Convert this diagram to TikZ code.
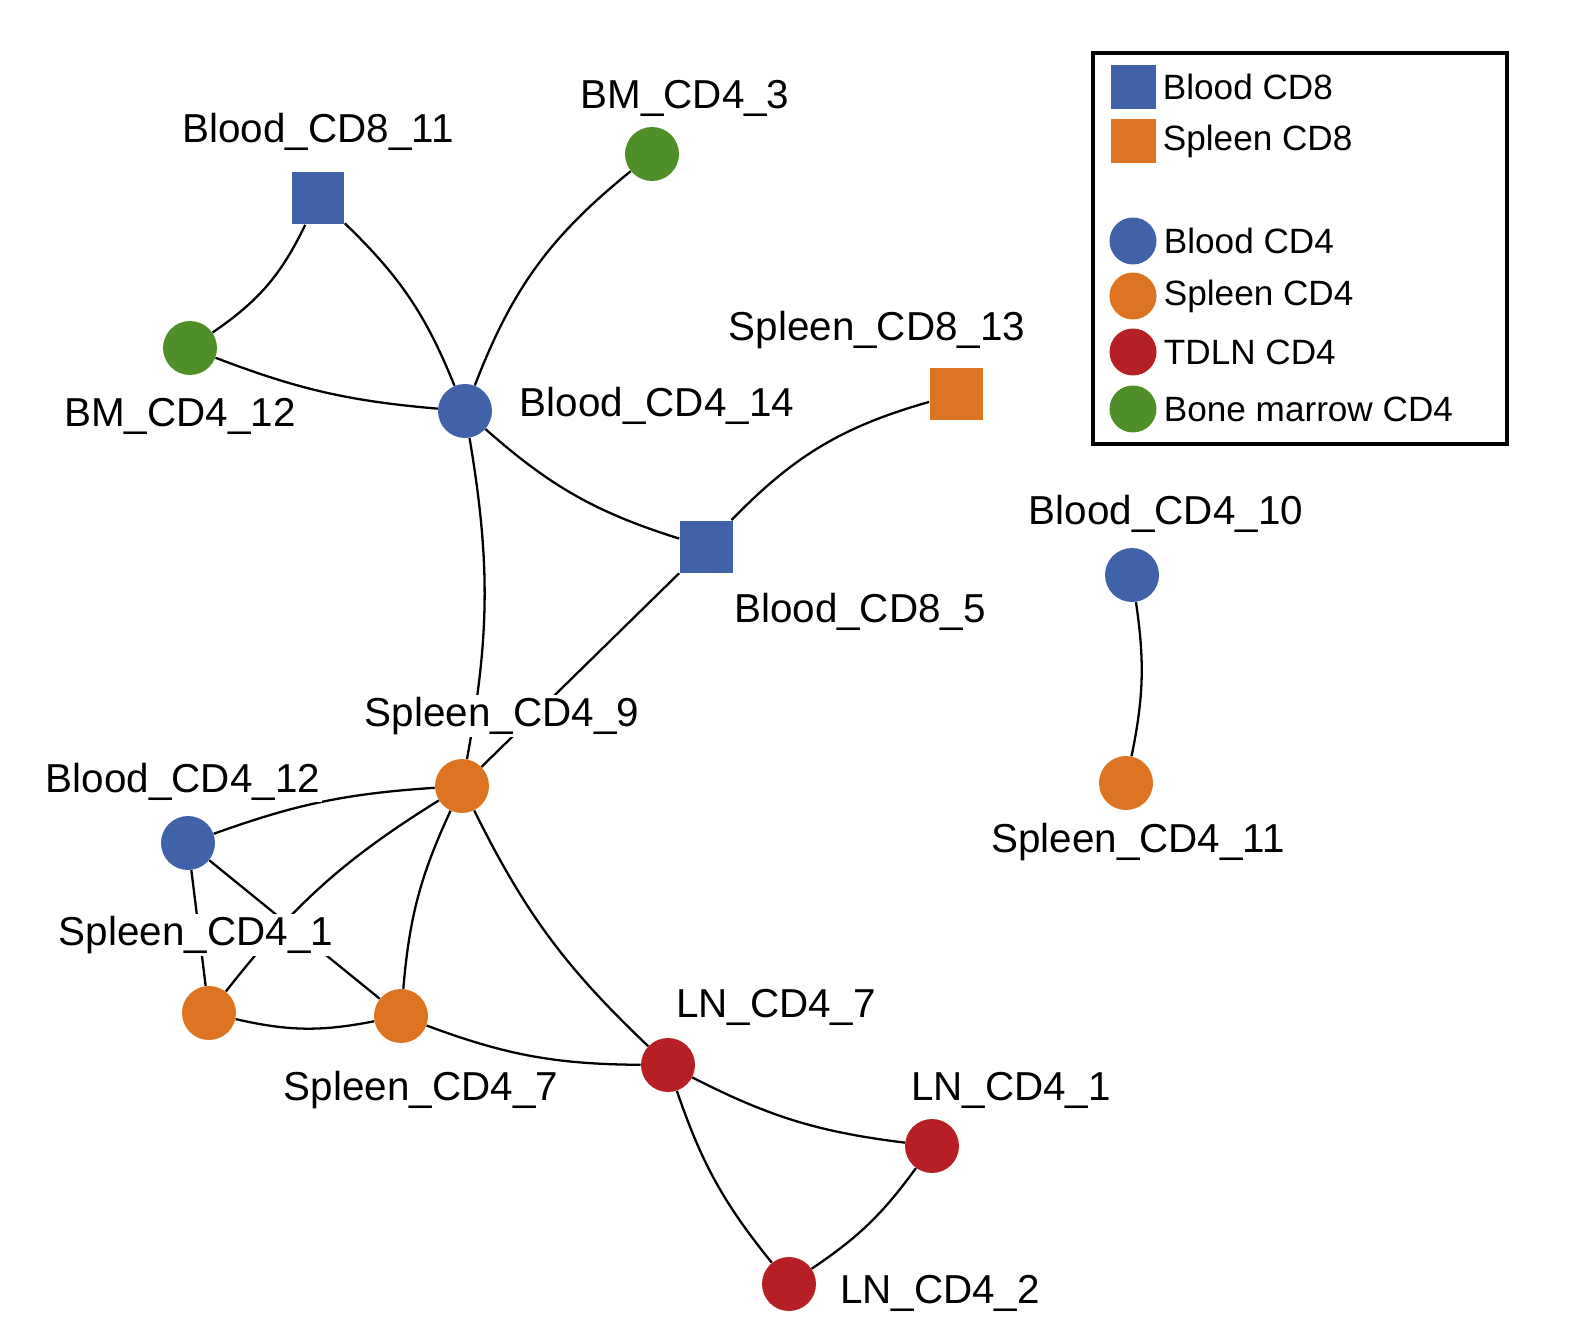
\documentclass[tikz,border=0pt]{standalone}
\usepackage{fontspec}
\setmainfont{Liberation Sans}
\usepackage{xcolor}
\usetikzlibrary{positioning}
\definecolor{cblue}{HTML}{3F62A8}
\definecolor{corange}{HTML}{DD7422}
\definecolor{cred}{HTML}{B61F24}
\definecolor{cgreen}{HTML}{4E8F2A}
\tikzset{
  dot/.style={circle,fill=#1,minimum size=1.08cm,inner sep=0pt},
  sq/.style={rectangle,fill=#1,minimum size=1.06cm,inner sep=0pt},
  lab/.style={fill=white,inner sep=1pt,font=\fontsize{23}{27}\selectfont},
  edge/.style={line width=1.3pt,black},
}
\begin{document}
\begin{tikzpicture}[x=0.02cm,y=-0.02cm]
	\useasboundingbox (0,0) rectangle (1573,1321);
	% nodes
	\node[sq=cblue] (b811) at (318,198) {};
	\node[dot=cgreen] (bm43) at (652,154) {};
	\node[dot=cgreen] (bm412) at (190,348) {};
	\node[dot=cblue] (b414) at (465,411) {};
	\node[sq=corange] (s813) at (956,394) {};
	\node[sq=cblue] (b85) at (706,547) {};
	\node[dot=cblue] (b410) at (1132,575) {};
	\node[dot=corange] (s411) at (1126,783) {};
	\node[dot=corange] (s49) at (462,786) {};
	\node[dot=cblue] (b412) at (188,843) {};
	\node[dot=corange] (s41) at (209,1013) {};
	\node[dot=corange] (s47) at (401,1016) {};
	\node[dot=cred] (ln47) at (668,1065) {};
	\node[dot=cred] (ln41) at (932,1146) {};
	\node[dot=cred] (ln42) at (789,1284) {};
	% edges
	\draw[edge] (b811) to[bend left=15] (bm412);
	\draw[edge] (b811) to[bend left=12] (b414);
	\draw[edge] (bm43) to[bend right=15] (b414);
	\draw[edge] (bm412) to[bend right=8] (b414);
	\draw[edge] (b414) to[bend right=12] (b85);
	\draw[edge] (b414) to[bend left=10] (s49);
	\draw[edge] (s813) to[bend right=15] (b85);
	\draw[edge] (b85) -- (s49);
	\draw[edge] (b410) to[bend left=10] (s411);
	\draw[edge] (s49) to[bend right=8] (b412);
	\draw[edge] (s49) to[bend right=10] (s41);
	\draw[edge] (s49) to[bend right=10] (s47);
	\draw[edge] (s49) to[bend right=10] (ln47);
	\draw[edge] (b412) -- (s41);
	\draw[edge] (b412) -- (s47);
	\draw[edge] (s41) to[bend right=12] (s47);
	\draw[edge] (s47) to[bend right=10] (ln47);
	\draw[edge] (ln47) to[bend right=10] (ln41);
	\draw[edge] (ln47) to[bend right=10] (ln42);
	\draw[edge] (ln41) to[bend left=10] (ln42);
	% labels
	\node[lab] at (318,132) {Blood\_CD8\_11};
	\node[lab] at (685,98) {BM\_CD4\_3};
	\node[lab] at (180,416) {BM\_CD4\_12};
	\node[lab] at (657,406) {Blood\_CD4\_14};
	\node[lab] at (877,330) {Spleen\_CD8\_13};
	\node[lab] at (860,612) {Blood\_CD8\_5};
	\node[lab] at (1166,514) {Blood\_CD4\_10};
	\node[lab] at (1138,842) {Spleen\_CD4\_11};
	\node[lab] at (502,716) {Spleen\_CD4\_9};
	\node[lab] at (183,782) {Blood\_CD4\_12};
	\node[lab] at (196,935) {Spleen\_CD4\_1};
	\node[lab] at (421,1090) {Spleen\_CD4\_7};
	\node[lab] at (776,1007) {LN\_CD4\_7};
	\node[lab] at (1011,1090) {LN\_CD4\_1};
	\node[lab] at (940,1293) {LN\_CD4\_2};
	% legend
	\draw[line width=2pt] (1093,53) rectangle (1507,444);
	\node[sq=cblue,minimum size=0.9cm] (lg1) at (1133,87) {};
	\node[sq=corange,minimum size=0.9cm] (lg2) at (1133,141) {};
	\node[dot=cblue,minimum size=0.94cm] (lg3) at (1133,241) {};
	\node[dot=corange,minimum size=0.94cm] (lg4) at (1133,296) {};
	\node[dot=cred,minimum size=0.94cm] (lg5) at (1133,352) {};
	\node[dot=cgreen,minimum size=0.94cm] (lg6) at (1133,409) {};
	\foreach \n/\t in {lg1/Blood CD8,lg2/Spleen CD8,lg3/Blood CD4,lg4/Spleen CD4,lg5/TDLN CD4,lg6/Bone marrow CD4}
		\node[lab,fill=none,font=\fontsize{20}{24}\selectfont,anchor=west] at ([xshift=0.1cm]\n.east) {\t};
\end{tikzpicture}
\end{document}
